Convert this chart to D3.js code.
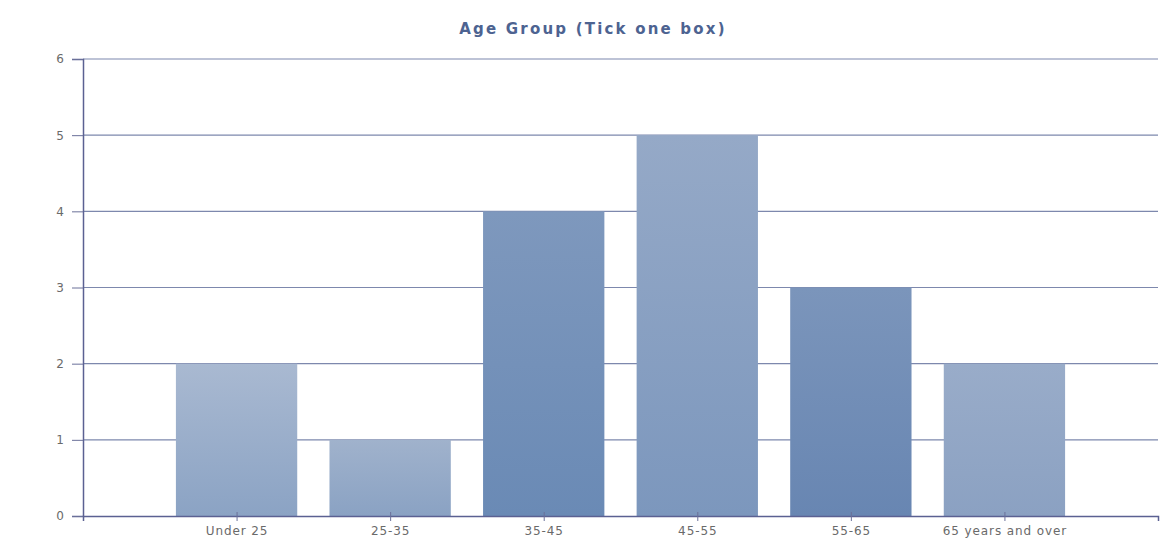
<!DOCTYPE html>
<html>
<head>
<meta charset="utf-8">
<script src="https://cdn.jsdelivr.net/npm/d3@7"></script>
<style>
  body { margin: 0; background: #fff; }
  svg text { font-family: "DejaVu Sans", Verdana, sans-serif; }
</style>
</head>
<body>
<div id="chart"></div>
<script>
var categories = ["Under 25", "25-35", "35-45", "45-55", "55-65", "65 years and over"];
var counts = [2, 1, 4, 5, 3, 2];
var yTicks = [0, 1, 2, 3, 4, 5, 6];

// top / bottom shades of each bar
var barTop = ["#a9b9d1", "#a0b2cc", "#7e98bd", "#95a9c7", "#7b95bb", "#99acc9"];
var barBottom = ["#8ba3c4", "#8aa2c3", "#6a8ab5", "#7c97bd", "#6886b2", "#8ba1c2"];

var margin = {top: 59, right: 13, bottom: 36, left: 83};
var width = 1171 - margin.left - margin.right;
var height = 552 - margin.top - margin.bottom;

var svg = d3.select("#chart").append("svg")
    .attr("width", 1171)
    .attr("height", 552);

svg.append("text")
    .attr("x", 593)
    .attr("y", 34)
    .attr("text-anchor", "middle")
    .style("font-size", "15px")
    .style("font-weight", "bold")
    .style("letter-spacing", "2.2px")
    .style("fill", "#4d6391")
    .text("Age Group (Tick one box)");

var defs = svg.append("defs");
categories.forEach(function(c, i) {
    var g = defs.append("linearGradient")
        .attr("id", "grad" + i)
        .attr("x1", 0).attr("y1", 0).attr("x2", 0).attr("y2", 1);
    g.append("stop").attr("offset", "0%").attr("stop-color", barTop[i]);
    g.append("stop").attr("offset", "100%").attr("stop-color", barBottom[i]);
});

var g = svg.append("g")
    .attr("transform", "translate(" + margin.left + "," + margin.top + ")");

var x = d3.scalePoint()
    .domain(categories)
    .range([0, width])
    .padding(1);

var y = d3.scaleLinear()
    .domain([0, 6])
    .range([height, 0]);

var barWidth = x.step() * 0.79;

// grid lines
g.selectAll(".grid")
    .data(yTicks.filter(function(d) { return d > 0 }))
    .enter().append("line")
    .attr("x1", 0)
    .attr("x2", width)
    .attr("y1", function(d) { return y(d) })
    .attr("y2", function(d) { return y(d) })
    .attr("stroke", "#7d88ad")
    .attr("stroke-width", 1.2);

g.selectAll(".bar")
    .data(counts)
    .enter().append("rect")
    .attr("x", function(d, i) { return x(categories[i]) - barWidth / 2 })
    .attr("y", function(d) { return y(d) })
    .attr("width", barWidth)
    .attr("height", function(d) { return height - y(d) })
    .attr("fill", function(d, i) { return "url(#grad" + i + ")" });

// y axis
var yAxis = g.append("g")
    .call(d3.axisLeft(y).tickValues(yTicks).tickFormat(d3.format("d")).tickSize(11).tickPadding(8));
yAxis.select(".domain").attr("stroke", "#5b6192").attr("stroke-width", 1.5);
yAxis.selectAll(".tick line").attr("stroke", "#6a7099");
yAxis.selectAll("text").style("font-size", "12px").style("fill", "#6a6a6a");

// x axis
var xAxis = g.append("g")
    .attr("transform", "translate(0," + height + ")")
    .call(d3.axisBottom(x).tickSize(5).tickSizeOuter(5).tickPadding(5));
xAxis.select(".domain").attr("stroke", "#5b6192").attr("stroke-width", 1.5);
xAxis.selectAll(".tick line").attr("y1", -4).attr("stroke", "#6a7099");
xAxis.selectAll("text").style("font-size", "12px").style("letter-spacing", "0.9px").style("fill", "#6a6a6a");
</script>
</body>
</html>
